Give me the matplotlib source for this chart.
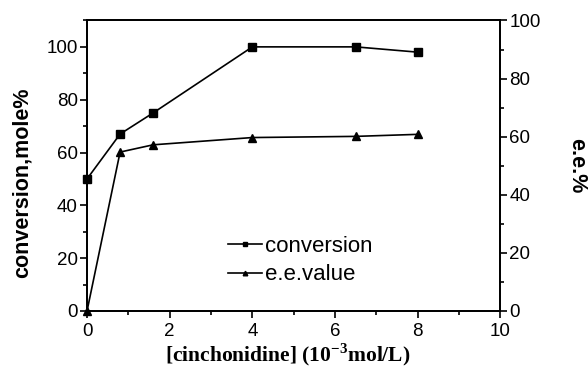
import matplotlib
matplotlib.use("Agg")
import matplotlib.pyplot as plt
from matplotlib.ticker import MultipleLocator

plt.rcParams['font.family'] = ['Liberation Sans', 'DejaVu Sans']
plt.rcParams['mathtext.fontset'] = 'custom'
plt.rcParams['mathtext.rm'] = 'Liberation Serif:bold'
plt.rcParams['mathtext.bf'] = 'Liberation Serif:bold'

# concentration of cinchonidine, 10^-3 mol/L
conc = [0, 0.8, 1.6, 4.0, 6.5, 8.0]
conversion = [50, 67, 75, 100, 100, 98]
ee_value = [0, 54.7, 57.2, 59.7, 60.1, 60.8]

fig = plt.figure(figsize=(5.88, 3.72), dpi=100)
ax1 = fig.add_axes([0.148, 0.164, 0.703, 0.781])
ax2 = ax1.twinx()

l1, = ax1.plot(conc, conversion, color='black', lw=1.2, marker='s', ms=5.5,
               label='conversion', clip_on=False, zorder=3)
l2, = ax2.plot(conc, ee_value, color='black', lw=1.2, marker='^', ms=5.5,
               label='e.e.value', clip_on=False, zorder=3)

ax1.set_xlim(0, 10)
ax1.set_ylim(0, 110)
ax2.set_ylim(0, 100)

ax1.xaxis.set_major_locator(MultipleLocator(2))
ax1.xaxis.set_minor_locator(MultipleLocator(1))
ax1.yaxis.set_major_locator(MultipleLocator(20))
ax1.yaxis.set_minor_locator(MultipleLocator(10))
ax2.yaxis.set_major_locator(MultipleLocator(20))
ax2.yaxis.set_minor_locator(MultipleLocator(10))

for ax in (ax1, ax2):
    for s in ax.spines.values():
        s.set_linewidth(1.3)
    ax.tick_params(which='major', direction='out', length=5, width=1.2, labelsize=13.5, pad=1.5)
    ax.tick_params(which='minor', direction='out', length=3, width=1.2)
ax1.tick_params(axis='x', top=False, which='both')
ax1.tick_params(axis='x', which='major', pad=4)
ax1.tick_params(axis='y', right=False, which='both')

fig.text(0.037, 0.508, 'conversion,mole%', fontsize=15.5, fontweight='bold',
         rotation=90, ha='center', va='center')
fig.text(0.981, 0.555, 'e.e.%', fontsize=15.5, fontweight='bold',
         rotation=-90, ha='center', va='center')
fig.text(0.489, 0.046, r'[cinchonidine] (10$^{-3}$mol/L)', fontsize=15.5,
         fontweight='bold', family=['Liberation Serif'], ha='center', va='center')

leg = ax1.legend(handles=[l1, l2], loc='upper left', bbox_to_anchor=(0.32, 0.29),
                 frameon=False, fontsize=16, handlelength=1.5, handletextpad=0.15,
                 markerscale=0.6, labelspacing=0.35, borderaxespad=0)

fig.savefig('out.png', dpi=100)
